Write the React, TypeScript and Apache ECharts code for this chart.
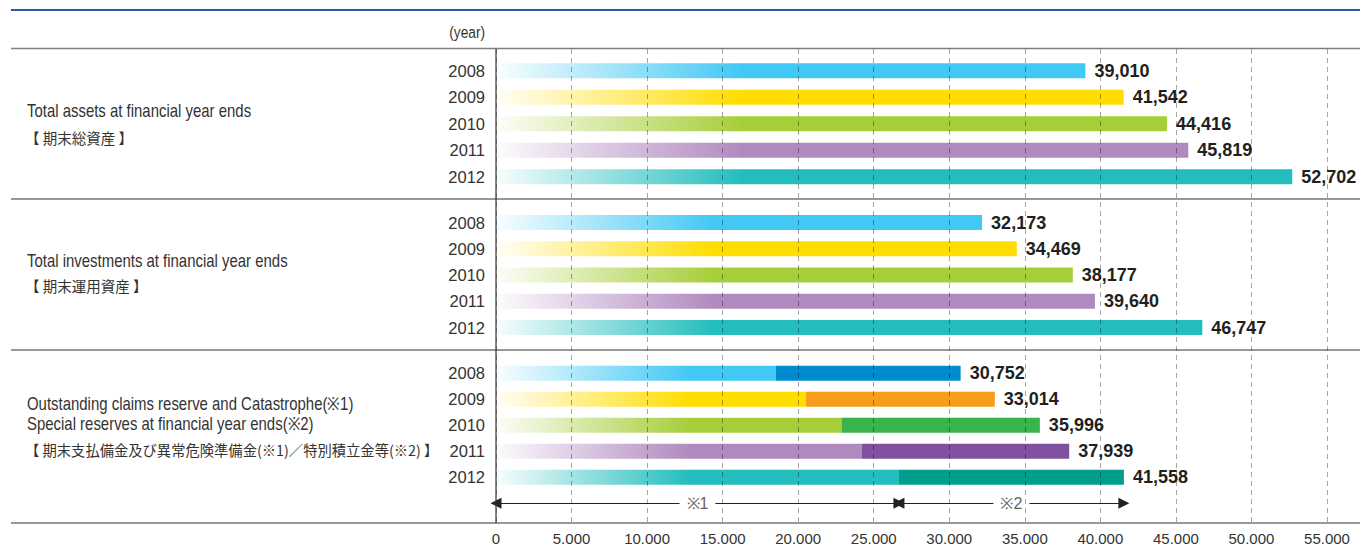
import React, { useEffect, useRef } from "react";
import * as echarts from "echarts";

// ---------- data ----------
const years = ["2008", "2009", "2010", "2011", "2012"];
const totalAssets = [39010, 41542, 44416, 45819, 52702];
const totalInvestments = [32173, 34469, 38177, 39640, 46747];
// ※1 outstanding claims reserve + catastrophe reserve
const claimsReserve = [18530, 20520, 22870, 24220, 26670];
// ※2 special reserves
const specialReserve = [12222, 12494, 13126, 13719, 14888];
const reserveTotal = [30752, 33014, 35996, 37939, 41558];
const xTicks = [0, 5000, 10000, 15000, 20000, 25000, 30000, 35000, 40000, 45000, 50000, 55000];

const lightColors = ["#42c8f4", "#ffdd00", "#a6ce39", "#b08abf", "#23bdbd"];
const darkColors = ["#008bd0", "#f89c1c", "#38b44a", "#7f51a0", "#009e8c"];

const SANS = "'Liberation Sans', Arial, sans-serif";
const CJK = "'Noto Sans CJK JP', sans-serif";
const SX = 0.83;

function hexA(hex: string, a: number) {
  const n = parseInt(hex.slice(1), 16);
  return `rgba(${(n >> 16) & 255},${(n >> 8) & 255},${n & 255},${a})`;
}

function grad(color: string, stop: number) {
  const p = Math.min(1, Math.max(0.01, stop));
  return new echarts.graphic.LinearGradient(0, 0, 1, 0, [
    { offset: 0, color: hexA(color, 0.03) },
    { offset: p, color: color },
    { offset: 1, color: color },
  ]);
}

const fmtComma = (v: number) => String(v).replace(/\B(?=(\d{3})+(?!\d))/g, ",");
const fmtDot = (v: number) => String(v).replace(/\B(?=(\d{3})+(?!\d))/g, ".");

const ARROW = " ";
const GRAD_FRAC = 0.31;

export default function App() {
  const ref = useRef<HTMLDivElement>(null);
  useEffect(() => {
    if (!ref.current) return;
    const chart = echarts.init(ref.current, undefined, { renderer: "svg" });

    const L = 496;
    const W = 831;
    const grids = [
      { left: L, width: W, top: 57.5, height: 132.5 },
      { left: L, width: W, top: 209.4, height: 131.25 },
      { left: L, width: W, top: 360.3, height: 156 },
      { left: L, width: W, top: 49, height: 474 },
    ];

    const hiddenX = (i: number) => ({
      type: "value",
      gridIndex: i,
      min: xTicks[0],
      max: xTicks[xTicks.length - 1],
      show: false,
    });
    const yCat = (i: number, data: string[]) => ({
      type: "category",
      gridIndex: i,
      inverse: true,
      data,
      axisLine: { show: false },
      axisTick: { show: false },
      splitLine: { show: false },
      axisLabel: { color: "#333", fontSize: 16.5, fontFamily: SANS, margin: 11 },
    });

    const valueLabel = (formatter: any) => ({
      show: true,
      position: "right",
      distance: 9,
      formatter,
      color: "#231f20",
      fontSize: 18,
      fontWeight: "bold",
      fontFamily: SANS,
    });

    const max1 = Math.max(...totalAssets);
    const max2 = Math.max(...totalInvestments);
    const max3 = Math.max(...reserveTotal);

    const txt = (text: string, x: number, y: number, size: number, extra: any = {}) => ({
      type: "text",
      x,
      y,
      scaleX: SX,
      style: { text, fill: "#333", font: `${size}px ${SANS}`, textVerticalAlign: "middle", ...extra },
    });
    const jtxt = (text: string, x: number, y: number, size: number) => ({
      type: "text",
      x,
      y,
      style: { text, fill: "#333", font: `${size}px ${CJK}`, textVerticalAlign: "middle" },
    });

    const option: any = {
      animation: false,
      grid: grids,
      xAxis: [
        hiddenX(0),
        hiddenX(1),
        hiddenX(2),
        {
          type: "value",
          gridIndex: 3,
          min: 0,
          max: 55000,
          interval: 5000,
          z: 10,
          axisLine: { show: false },
          axisTick: { show: false },
          splitLine: {
            show: true,
            lineStyle: { color: "rgba(0,0,0,0.35)", width: 1, type: [5, 4] },
          },
          axisLabel: {
            color: "#333",
            fontSize: 15,
            fontFamily: SANS,
            margin: 8,
            formatter: (v: number) => fmtDot(v),
          },
        },
      ],
      yAxis: [
        yCat(0, years),
        yCat(1, years),
        yCat(2, [...years, ARROW]),
        { type: "value", gridIndex: 3, show: false },
      ],
      series: [
        {
          type: "bar",
          xAxisIndex: 0,
          yAxisIndex: 0,
          barWidth: 15,
          data: totalAssets.map((v, i) => ({
            value: v,
            itemStyle: { color: grad(lightColors[i], (GRAD_FRAC * max1) / v) },
          })),
          label: valueLabel((p: any) => fmtComma(p.value)),
        },
        {
          type: "bar",
          xAxisIndex: 1,
          yAxisIndex: 1,
          barWidth: 15,
          data: totalInvestments.map((v, i) => ({
            value: v,
            itemStyle: { color: grad(lightColors[i], (GRAD_FRAC * max2) / v) },
          })),
          label: valueLabel((p: any) => fmtComma(p.value)),
        },
        {
          type: "bar",
          xAxisIndex: 2,
          yAxisIndex: 2,
          stack: "reserve",
          barWidth: 15,
          data: claimsReserve.map((v, i) => ({
            value: v,
            itemStyle: { color: grad(lightColors[i], (GRAD_FRAC * max3) / v) },
          })),
          markLine: {
            silent: true,
            symbol: ["triangle", "triangle"],
            symbolSize: 11,
            lineStyle: { color: "#222", width: 1, type: "solid" },
            label: {
              show: true,
              position: "middle",
              distance: 0,
              verticalAlign: "middle",
              formatter: "{b}",
              color: "#666",
              fontSize: 16,
              fontFamily: SANS,
              backgroundColor: "#fff",
              padding: [0, 7],
              lineHeight: 12,
            },
            data: [
              [
                { name: "※1", coord: [0, ARROW] },
                { name: "※1", coord: [claimsReserve[4], ARROW] },
              ],
              [
                { name: "※2", coord: [claimsReserve[4], ARROW] },
                { name: "※2", coord: [claimsReserve[4] + specialReserve[4], ARROW] },
              ],
            ],
          },
        },
        {
          type: "bar",
          xAxisIndex: 2,
          yAxisIndex: 2,
          stack: "reserve",
          barWidth: 15,
          data: specialReserve.map((v, i) => ({
            value: v,
            itemStyle: { color: darkColors[i] },
          })),
          label: valueLabel((p: any) => fmtComma(reserveTotal[p.dataIndex])),
        },
      ],
      graphic: [
        { type: "line", shape: { x1: 11, y1: 10, x2: 1360, y2: 10 }, style: { stroke: "#2b5aa6", lineWidth: 2 } },
        { type: "line", shape: { x1: 11, y1: 48.5, x2: 1360, y2: 48.5 }, style: { stroke: "#808080", lineWidth: 1.5 } },
        { type: "line", shape: { x1: 11, y1: 199, x2: 1360, y2: 199 }, style: { stroke: "#333", lineWidth: 1 } },
        { type: "line", shape: { x1: 11, y1: 350, x2: 1360, y2: 350 }, style: { stroke: "#333", lineWidth: 1 } },
        { type: "line", shape: { x1: 11, y1: 523, x2: 1360, y2: 523 }, style: { stroke: "#333", lineWidth: 1 } },
        { type: "line", z: 20, shape: { x1: 496, y1: 49, x2: 496, y2: 523 }, style: { stroke: "#333", lineWidth: 1.2 } },
        txt("(year)", 485, 32, 16.5, { textAlign: "right" }),
        txt("Total assets at financial year ends", 27, 111, 18),
        jtxt("【 期末総資産 】", 25, 137, 14.5),
        txt("Total investments at financial year ends", 27, 261, 18),
        jtxt("【 期末運用資産 】", 25, 285, 14.5),
        txt("Outstanding claims reserve and Catastrophe(※1)", 27, 404, 18),
        txt("Special reserves at financial year ends(※2)", 27, 424, 18),
        jtxt("【 期末支払備金及び異常危険準備金(※1)／特別積立金等(※2) 】", 25, 449, 14.3),
      ],
    };

    chart.setOption(option);
    return () => chart.dispose();
  }, []);

  return (
    <div
      ref={ref}
      style={{ position: "fixed", left: 0, top: 0, width: 1360, height: 546, background: "#fff" }}
    />
  );
}
